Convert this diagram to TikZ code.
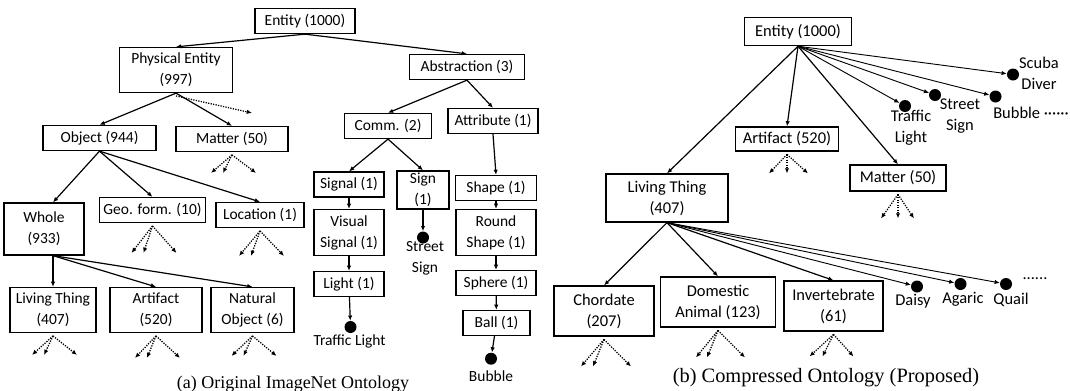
\documentclass[tikz,border=0pt]{standalone}
\usepackage{fontspec}
\setmainfont{Carlito}
\newfontfamily\capfont{Liberation Serif}
\usepackage{tikz}
\usetikzlibrary{arrows.meta}
\newcommand{\lfont}{\fontsize{11}{15}\selectfont}
\newcommand{\rfont}{\fontsize{11.7}{15}\selectfont}
% three dotted arrows below a node: node, x offsets, drop
\newcommand{\spread}[3]{\foreach \dx in {#2} \draw[more] ([yshift=-2pt]#1.south) -- ++(\dx,#3);}
\tikzset{
  cat/.style={rectangle, draw, line width=0.9pt, fill=white, align=center, inner sep=1pt,
              minimum height=0.625cm, font=\lfont},
  catb/.style={cat, font=\rfont},
  wd/.style={minimum width=#1*0.025cm},
  ht/.style={minimum height=#1*0.025cm},
  leaf/.style={circle, fill=black, inner sep=0pt, minimum size=0.3cm},
  lbl/.style={align=center, inner sep=0pt, font=\lfont},
  lblb/.style={lbl, font=\rfont},
  arr/.style={-{Latex[length=1.3mm,width=1.1mm]}, line width=0.85pt},
  thin arr/.style={-{Latex[length=1.3mm,width=1.1mm]}, line width=0.65pt},
  more/.style={-{Latex[length=1.3mm,width=1.1mm]}, line width=0.9pt, dash pattern=on 0.9pt off 0.9pt},
}
\begin{document}
\begin{tikzpicture}[x=0.025cm, y=-0.025cm]
  \useasboundingbox (0,0) rectangle (1070,390);
  % (a) original ontology
  \node[cat, wd=100] (ent) at (305,21) {Entity (1000)};
  \node[cat, wd=113, ht=45] (phys) at (176,70) {Physical Entity\\(997)};
  \node[cat, wd=115] (abs) at (467,67) {Abstraction (3)};
  \node[cat, wd=113] (obj) at (99.5,138) {Object (944)};
  \node[cat, wd=112] (mat) at (232,139) {Matter (50)};
  \node[cat, wd=87] (comm) at (388,126) {Comm. (2)};
  \node[cat, wd=90] (attr) at (493,121) {Attribute (1)};
  \node[cat, wd=70] (sig) at (349,184.5) {Signal (1)};
  \node[cat, wd=52, ht=38] (sign) at (423,190) {Sign\\(1)};
  \node[cat, wd=81] (shp) at (496,188) {Shape (1)};
  \node[cat, wd=80, ht=52] (whole) at (44,229) {Whole\\(933)};
  \node[cat, wd=106] (geo) at (152.5,210) {Geo. form. (10)};
  \node[cat, wd=88] (loc) at (260,215) {Location (1)};
  \node[cat, wd=86, ht=45] (lt) at (53,310) {Living Thing\\(407)};
  \node[cat, wd=92, ht=45] (art) at (156,310) {Artifact\\(520)};
  \node[cat, wd=83, ht=45] (nat) at (252.5,310) {Natural\\Object (6)};
  \node[cat, wd=70, ht=46] (vis) at (349,232.5) {Visual\\Signal (1)};
  \node[cat, wd=70] (light) at (349,284) {Light (1)};
  \node[cat, wd=80, ht=46] (rshp) at (496,232.5) {Round\\Shape (1)};
  \node[cat, wd=80] (sph) at (496,283) {Sphere (1)};
  \node[cat, wd=67] (ball) at (496.5,323) {Ball (1)};
  \node[leaf] (tl) at (350.5,327) {};
  \node[lbl] (tllbl) at (349.5,341.5) {Traffic Light};
  \node[leaf] (ss) at (423,237.5) {};
  \node[lbl] (sslbl) at (425,258) {Street\\Sign};
  \node[leaf] (bub) at (491,358.7) {};
  \node[lbl] (bublbl) at (491,376) {Bubble};
  \coordinate (wo) at (whole.south -| lt.north);
  \draw[arr] (ent.south) -- (phys.north);
  \draw[arr] (ent.south) -- (abs.north);
  \draw[arr] (phys.south) -- (obj.north);
  \draw[arr] (phys.south) -- (mat.north);
  \draw[more] ([yshift=-2pt]phys.south) -- ++(76,17);
  \draw[arr] (obj.south) -- (whole.north -| wo);
  \draw[arr] (obj.south) -- (geo.north);
  \draw[arr] (obj.south) -- (loc.north);
  \draw[arr] (wo) -- (lt.north);
  \draw[arr] (wo) -- (art.north);
  \draw[arr] (wo) -- (nat.north);
  \draw[arr] (abs.south) -- (comm.north);
  \draw[arr] (abs.south) -- (attr.north);
  \draw[arr] (comm.south) -- (sig.north);
  \draw[arr] (comm.south) -- (sign.north);
  \draw[arr] (attr.south) -- (shp.north);
  \draw[arr] (sig) -- (vis);
  \draw[arr] (vis) -- (light);
  \draw[arr] (light) -- (tl);
  \draw[arr] (sign) -- (ss);
  \draw[arr] (shp) -- (rshp);
  \draw[arr] (rshp) -- (sph);
  \draw[arr] (sph) -- (ball);
  \draw[arr] (ball) -- (bub);
  \spread{mat}{-21,-9,24}{18}
  \spread{geo}{-21,-9,24}{27}
  \spread{loc}{-21,-9,24}{25}
  \spread{lt}{-21,-9,24}{19}
  \spread{art}{-21,-9,24}{22}
  \spread{nat}{-21,-9,24}{20}
  \node[font=\capfont\fontsize{12.8}{14}\selectfont, anchor=base] (capa) at (293,388) {(a) Original ImageNet Ontology};
  % (b) compressed ontology
  \node[catb, wd=107, ht=28] (ent2) at (798,31.6) {Entity (1000)};
  \node[catb, wd=122, ht=48] (lt2) at (667,198) {Living Thing\\(407)};
  \node[catb, wd=103, ht=24] (art2) at (787,139) {Artifact (520)};
  \node[catb, wd=96, ht=26] (mat2) at (898,178) {Matter (50)};
  \node[catb, wd=100, ht=50] (chord) at (604,311) {Chordate\\(207)};
  \node[catb, wd=115, ht=50] (dom) at (718,302) {Domestic\\Animal (123)};
  \node[catb, wd=99, ht=50] (inv) at (833.5,306) {Invertebrate\\(61)};
  \node[leaf] (tl2) at (905,106) {};
  \node[lblb] (tl2lbl) at (911,128) {Traffic\\Light};
  \node[leaf] (ss2) at (935,95) {};
  \node[lblb] (ss2lbl) at (960,116) {Street\\Sign};
  \node[leaf] (bub2) at (995.5,96.5) {};
  \node[lblb, anchor=west] (bub2lbl) at (993,113) {Bubble ······};
  \node[leaf] (sd) at (1013,74.5) {};
  \node[lblb] (sdlbl) at (1039,73) {Scuba\\Diver};
  \node[leaf] (daisy) at (917,286.5) {};
  \node[lblb] (daisylbl) at (913,301) {Daisy};
  \node[leaf] (agaric) at (960.5,284) {};
  \node[lblb] (agariclbl) at (963,299) {Agaric};
  \node[leaf] (quail) at (1006,284) {};
  \node[lblb] (quaillbl) at (1011,299.5) {Quail};
  \node[lblb] (etc) at (1035,279) {......};
  \draw[arr] (ent2.south) -- (lt2.north);
  \draw[arr] (ent2.south) -- (art2.north);
  \draw[arr] (ent2.south) -- (mat2.north);
  \foreach \t in {tl2,ss2,bub2,sd} \draw[thin arr] (ent2.south) -- (\t);
  \draw[arr] (lt2.south) -- (chord.north);
  \draw[arr] (lt2.south) -- (dom.north);
  \draw[arr] (lt2.south) -- (inv.north);
  \foreach \t in {daisy,agaric,quail} \draw[thin arr] (lt2.south) -- (\t);
  \spread{art2}{-18,0,21}{19}
  \spread{mat2}{-17,0,16}{24}
  \spread{chord}{-23,-11,27}{27}
  \spread{dom}{-22,-11,27}{27}
  \spread{inv}{-24,-11,20}{22}
  \node[font=\capfont\fontsize{14.5}{16}\selectfont, anchor=base] (capb) at (826,382) {(b) Compressed Ontology (Proposed)};
\end{tikzpicture}
\end{document}
